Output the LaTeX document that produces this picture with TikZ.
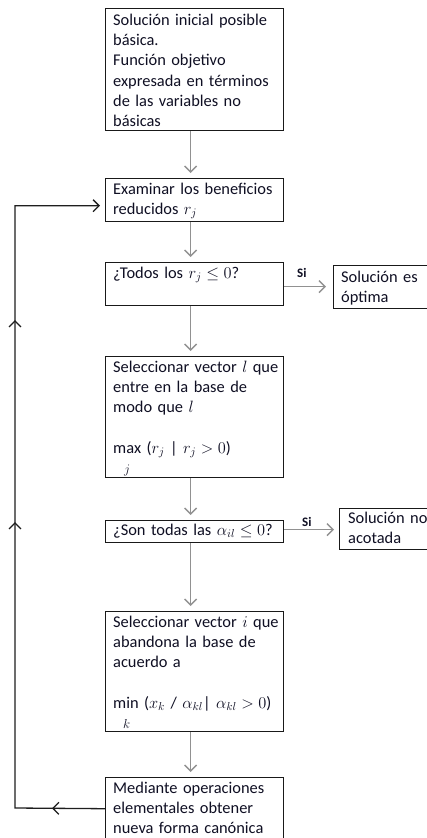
\RequirePackage{fix-cm}
\documentclass[tikz,border=0pt]{standalone}
\usepackage{fontspec}
\setmainfont{Carlito}
\usetikzlibrary{arrows.meta,decorations.markings}
\definecolor{textcol}{RGB}{15,15,35}
\definecolor{boxcol}{RGB}{25,25,25}
\definecolor{arrcol}{RGB}{145,145,145}
\definecolor{loopcol}{RGB}{30,30,30}
\newcommand\mainfs{\fontsize{16.4pt}{20.3pt}\selectfont}
\newcommand\sifs{\fontsize{13pt}{15pt}\selectfont\bfseries}
\newcommand\limfs{\fontsize{13pt}{15pt}\selectfont}
\begin{document}
\begin{tikzpicture}[x=1pt,y=-1pt,
  box/.style={draw=boxcol, line width=1.4pt, anchor=north west, inner sep=0pt},
  txt/.style={anchor=north west, inner sep=0pt, align=left, text width=175pt, font=\mainfs, text=textcol},
  stxt/.style={txt, text width=90pt},
  silab/.style={anchor=base west, inner sep=0pt, font=\sifs, text=textcol},
  arr/.style={draw=arrcol, line width=1.4pt, -{Straight Barb[length=6pt,width=12pt]}, shorten >=5pt},
  loopline/.style={draw=loopcol, color=loopcol, line width=1.3pt, -{Straight Barb[length=6pt,width=12pt]}, shorten >=5pt,
    postaction={decorate},
    decoration={markings,
      mark=at position 53pt with {\arrow{Straight Barb[length=6pt,width=12pt]}},
      mark=at position 376pt with {\arrow{Straight Barb[length=6pt,width=12pt]}},
      mark=at position 578pt with {\arrow{Straight Barb[length=6pt,width=12pt]}}}}
]
\clip (0,0) rectangle (427,838);
\fill[white] (0,0) rectangle (427,838);

% boxes
\node[box, minimum width=178pt, minimum height=122pt] (b1) at (105,8) {};
\node[box, minimum width=178pt, minimum height=43pt] (b2) at (105,178) {};
\node[box, minimum width=178pt, minimum height=43pt] (b3) at (105,262) {};
\node[box, minimum width=100pt, minimum height=43pt] (b4) at (333,265) {};
\node[box, minimum width=178pt, minimum height=121pt] (b5) at (105,356) {};
\node[box, minimum width=178pt, minimum height=22pt] (b6) at (105,520) {};
\node[box, minimum width=95pt, minimum height=41pt] (b7) at (339,508) {};
\node[box, minimum width=178pt, minimum height=120pt] (b8) at (105,611) {};
\node[box, minimum width=178pt, minimum height=62pt] (b9) at (105,777) {};

% texts
\node[txt] (t1) at (113,10.8) {\strut Solución inicial posible\\ básica.\\ Función objetivo\\ expresada en términos\\ de las variables no\\ básicas};
\node[txt] (t2) at (113,179.8) {\strut Examinar los beneficios\\ reducidos $r_j$};
\node[txt] (t3) at (113,263.8) {\strut ¿Todos los $r_j \leq 0$?};
\node[stxt] (t4) at (341,267.8) {\strut Solución es\\ óptima};
\node[txt] (t5) at (113,357.8) {\strut Seleccionar vector $l$ que\\ entre en la base de\\ modo que $l$\\[20.3pt] max ($r_j$ | $r_j > 0$)\\ \hspace*{11pt}{\limfs$j$}};
\node[txt] (t6) at (113,520.8) {\strut ¿Son todas las $\alpha_{il} \leq 0$?};
\node[stxt] (t7) at (348,508.8) {\strut Solución no\\ acotada};
\node[txt] (t8) at (113,612.8) {\strut Seleccionar vector $i$ que\\ abandona la base de\\ acuerdo a\\[20.3pt] min ($x_k$ / $\alpha_{kl}$| $\alpha_{kl} > 0$)\\ \hspace*{10pt}{\limfs$k$}};
\node[txt] (t9) at (113,778.8) {\strut Mediante operaciones\\ elementales obtener\\ nueva forma canónica};

% Si labels
\node[silab] (si1) at (297,277) {Si};
\node[silab] (si2) at (302,526) {Si};

% main vertical arrows
\draw[arr] ([xshift=-4pt]b1.south) -- ([xshift=-4pt]b2.north);
\draw[arr] ([xshift=-4pt]b2.south) -- ([xshift=-4pt]b3.north);
\draw[arr] ([xshift=-4pt]b3.south) -- ([xshift=-4pt]b5.north);
\draw[arr] ([xshift=-4pt]b5.south) -- ([xshift=-4pt]b6.north);
\draw[arr] ([xshift=-4pt]b6.south) -- ([xshift=-4pt]b8.north);
\draw[arr] ([xshift=-4pt]b8.south) -- ([xshift=-4pt]b9.north);

% side arrows
\coordinate (s3) at ([yshift=-2.5pt]b3.east);
\coordinate (s6) at ([yshift=2pt]b6.east);
\draw[arr, shorten >=7pt] (s3) -- (s3 -| b4.west);
\draw[arr] (s6) -- (s6 -| b7.west);

% loop back
\coordinate (lp) at (15,808);
\coordinate (s2) at ([yshift=-5.5pt]b2.west);
\draw[loopline] (b9.west) -- (lp) |- (s2);
\end{tikzpicture}
\end{document}
